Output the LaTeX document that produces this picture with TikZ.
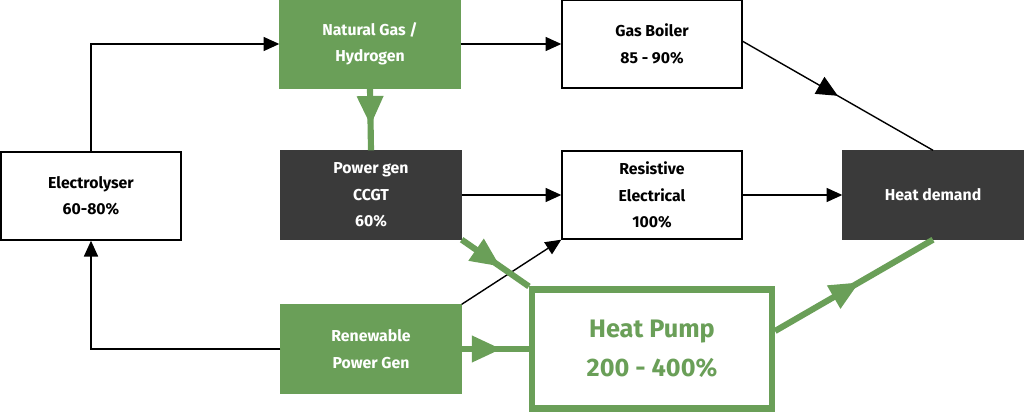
\documentclass[tikz,border=0pt]{standalone}
\usepackage{fontspec}
\setmainfont{Fira Sans}
\usetikzlibrary{arrows.meta,positioning,decorations.markings}
\definecolor{leaf}{HTML}{6A9F58}
\definecolor{coal}{HTML}{3A3A3A}
\begin{document}
\begin{tikzpicture}[
            x=0.02cm, y=-0.02cm,
            every node/.style={draw, thick, minimum width=3.6cm, minimum height=1.76cm,
              align=center, font=\bfseries\small, inner sep=0pt},
            pale/.style={fill=white, text=black},
            leafy/.style={fill=leaf, text=white, draw=leaf},
            dark/.style={fill=coal, text=white, draw=coal},
            every path/.style={thick},
            flow/.style={->, >={Triangle[length=9pt,width=8pt]}},
            midflow/.style={decoration={markings, mark=at position 0.5 with {\arrow{Triangle[length=12pt,width=11pt]}}}, postaction=decorate},
            greenflow/.style={draw=leaf, line width=3.5pt, midflow, color=leaf}
          ]
          \useasboundingbox (0,0) rectangle (1024,412);

          % Nodes
          \node[pale] (elec) at (91,196) {Electrolyser\\[4pt]60-80\%};
          \node[leafy] (gas) at (370,44) {Natural Gas /\\[4pt]Hydrogen};
          \node[pale] (boiler) at (652,44) {Gas Boiler\\[4pt]85 - 90\%};
          \node[dark] (ccgt) at (371,195) {Power gen\\[4pt]CCGT\\[4pt]60\%};
          \node[pale] (resist) at (652,195) {Resistive\\[4pt]Electrical\\[4pt]100\%};
          \node[dark] (demand) at (933,195) {Heat demand};
          \node[leafy] (renew) at (371,349) {Renewable\\[4pt]Power Gen};
          \node[pale, draw=leaf, line width=3.5pt, text=leaf, minimum width=4.8cm,
            minimum height=2.38cm, font=\bfseries\Large] (pump) at (652,349) {Heat Pump\\[4pt]200 - 400\%};

          % Edges
          \draw[flow] (elec.north) |- (gas.west);
          \draw[flow] (renew.west) -| (elec.south);
          \draw[flow] (gas.east) -- (boiler.west);
          \draw[flow] (ccgt.east) -- (resist.west);
          \draw[flow] (resist.east) -- (demand.west);
          \draw[flow] (renew.north east) -- (resist.south west);
          \draw[midflow, >=Triangle] (boiler.north east) ++(0,42) coordinate (b) (b) -- (demand.north);
          \draw[greenflow] (gas.south) -- (ccgt.north);
          \draw[greenflow] (ccgt.south east) -- (pump.north west);
          \draw[greenflow] (renew.east) -- (pump.west);
          \draw[greenflow] (pump.east) ++(0,-18) coordinate (p) (p) -- (demand.south);

        \end{tikzpicture}
\end{document}
